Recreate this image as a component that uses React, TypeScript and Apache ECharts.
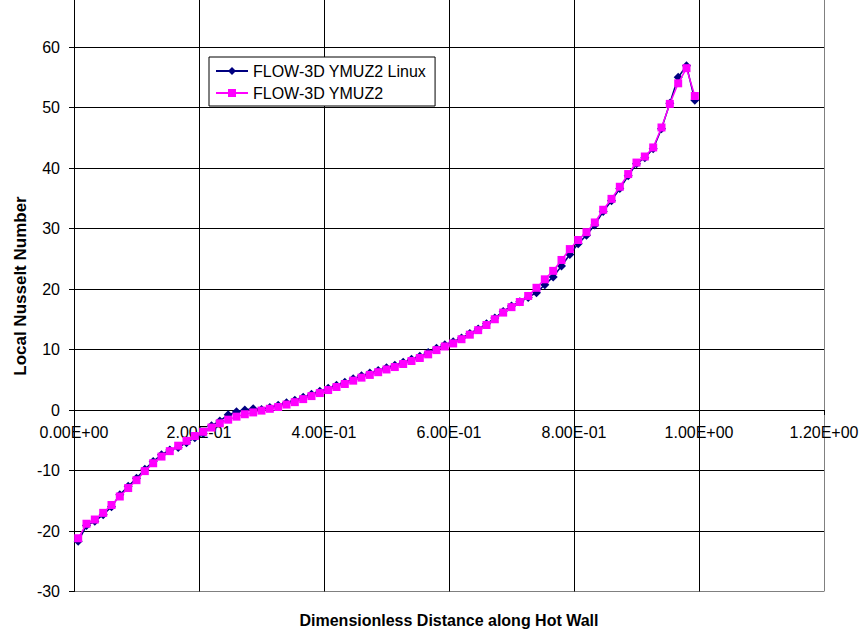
import React, { useEffect, useRef } from "react";
import * as echarts from "echarts";

// Dimensionless distance along the hot wall (cell centres)
const distance: number[] = [
  0.0067, 0.02, 0.0333, 0.0467, 0.06, 0.0733, 0.0867, 0.1, 0.1133, 0.1267,
  0.14, 0.1533, 0.1667, 0.18, 0.1933, 0.2067, 0.22, 0.2333, 0.2467, 0.26,
  0.2733, 0.2867, 0.3, 0.3133, 0.3267, 0.34, 0.3533, 0.3667, 0.38, 0.3933,
  0.4067, 0.42, 0.4333, 0.4467, 0.46, 0.4733, 0.4867, 0.5, 0.5133, 0.5267,
  0.54, 0.5533, 0.5667, 0.58, 0.5933, 0.6067, 0.62, 0.6333, 0.6467, 0.66,
  0.6733, 0.6867, 0.7, 0.7133, 0.7267, 0.74, 0.7533, 0.7667, 0.78, 0.7933,
  0.8067, 0.82, 0.8333, 0.8467, 0.86, 0.8733, 0.8867, 0.9, 0.9133, 0.9267,
  0.94, 0.9533, 0.9667, 0.98, 0.9933,
];

// Local Nusselt number, FLOW-3D YMUZ2 Linux run
const nusseltLinux: number[] = [
  -21.7, -19.1, -18.4, -17.3, -16.0, -14.0, -12.6, -11.3, -9.8, -8.5,
  -7.4, -6.6, -6.2, -5.4, -4.6, -3.9, -2.6, -1.8, -0.8, -0.3,
  0.0, 0.2, 0.1, 0.4, 0.8, 1.2, 1.6, 2.1, 2.6, 3.1,
  3.6, 4.1, 4.6, 5.15, 5.65, 6.1, 6.55, 7.0, 7.4, 7.9,
  8.4, 8.9, 9.5, 10.2, 10.8, 11.3, 11.9, 12.65, 13.4, 14.25,
  15.2, 16.3, 17.2, 17.9, 18.6, 19.4, 20.7, 22.0, 23.8, 25.7,
  27.5, 28.9, 30.6, 32.8, 34.6, 36.6, 38.7, 40.7, 41.7, 43.2,
  46.5, 50.7, 55.0, 56.9, 51.2,
];

// Local Nusselt number, FLOW-3D YMUZ2 run
const nusseltYmuz2: number[] = [
  -21.2, -18.8, -18.1, -17.0, -15.7, -14.3, -12.9, -11.6, -10.1, -8.8,
  -7.7, -6.8, -5.9, -5.1, -4.3, -3.6, -2.9, -2.2, -1.6, -1.1,
  -0.7, -0.4, -0.1, 0.2, 0.5, 0.9, 1.3, 1.8, 2.3, 2.8,
  3.3, 3.8, 4.3, 4.85, 5.35, 5.8, 6.25, 6.7, 7.1, 7.6,
  8.1, 8.6, 9.2, 9.9, 10.5, 11.0, 11.7, 12.45, 13.2, 14.05,
  15.0, 16.1, 17.0, 17.85, 18.85, 20.2, 21.6, 23.0, 24.8, 26.6,
  28.1, 29.4, 31.0, 33.1, 34.9, 36.9, 39.0, 40.9, 41.9, 43.4,
  46.7, 50.6, 54.0, 56.5, 51.9,
];

const seriesNames: string[] = ["FLOW-3D YMUZ2 Linux", "FLOW-3D YMUZ2"];
const xTitle = "Dimensionless Distance along Hot Wall";
const yTitle = "Local Nusselt Number";

const FONT = "'Liberation Sans', Arial, sans-serif";

// Plot area geometry (px) and y range; the top of the plot runs a little
// past the last labelled tick (60).
const GRID_TOP = 0;
const GRID_BOTTOM = 43.5;
const Y_MIN = -30;
const Y_MAX = 67.77;
const Y_LAST_LABEL = 60;
const CHART_H = 635;

// Distance from the bottom of the plot up to the y = 0 line, so the
// x axis (with its tick labels) crosses the y axis at zero.
const plotH = CHART_H - GRID_TOP - GRID_BOTTOM;
const zeroOffset = (plotH * (0 - Y_MIN)) / (Y_MAX - Y_MIN);

// Excel-style scientific tick label: 2.00E-01
function sci(v: number): string {
  const [m, e] = v.toExponential(2).split("e");
  const sign = e[0] === "-" ? "-" : "+";
  const digits = e.replace(/^[+-]/, "").padStart(2, "0");
  return `${m}E${sign}${digits}`;
}

export default function App() {
  const ref = useRef<HTMLDivElement>(null);

  useEffect(() => {
    if (!ref.current) return;
    const chart = echarts.init(ref.current, null, { renderer: "svg" });

    const pairs = (ys: number[]) => distance.map((x, i) => [x, ys[i]]);

    chart.setOption({
      animation: false,
      backgroundColor: "#ffffff",
      grid: { left: 74, right: 41, top: GRID_TOP, bottom: GRID_BOTTOM, containLabel: false },
      legend: {
        orient: "vertical",
        left: 209,
        top: 57,
        padding: [6, 9, 5, 6],
        itemGap: 6,
        itemWidth: 32,
        itemHeight: 10,
        backgroundColor: "#ffffff",
        borderColor: "#000000",
        borderWidth: 1,
        textStyle: { fontFamily: FONT, fontSize: 16, color: "#000" },
        data: seriesNames,
      },
      xAxis: {
        type: "value",
        min: 0,
        max: 1.2,
        interval: 0.2,
        position: "bottom",
        offset: -zeroOffset,
        axisLine: { onZero: false, lineStyle: { color: "#000", width: 1 } },
        axisTick: { show: true, inside: false, length: 5, lineStyle: { color: "#000" } },
        axisLabel: {
          margin: 14,
          fontFamily: FONT,
          fontSize: 16,
          color: "#000",
          formatter: (v: number) => sci(v),
        },
        splitLine: {
          show: true,
          lineStyle: {
            color: ["#000", "#000", "#000", "#000", "#000", "#000", "#808080"],
            width: 1,
          },
        },
      },
      yAxis: {
        type: "value",
        min: Y_MIN,
        max: Y_MAX,
        interval: 10,
        axisLine: { show: true, onZero: false, lineStyle: { color: "#000", width: 1 } },
        axisTick: { show: true, inside: false, length: 5, lineStyle: { color: "#000" } },
        axisLabel: {
          margin: 14,
          fontFamily: FONT,
          fontSize: 16,
          color: "#000",
          showMaxLabel: false,
          formatter: (v: number) => (v > Y_LAST_LABEL ? "" : String(v)),
        },
        splitLine: {
          show: true,
          showMaxLine: false,
          lineStyle: {
            color: ["#808080", "#000", "#000", "#000", "#000", "#000", "#000", "#000", "#000", "#000", "#000"],
            width: 1,
          },
        },
      },
      series: [
        {
          name: seriesNames[0],
          type: "line",
          data: pairs(nusseltLinux),
          symbol: "diamond",
          symbolSize: 9,
          itemStyle: { color: "#000080" },
          lineStyle: { color: "#000080", width: 1.5 },
          z: 2,
        },
        {
          name: seriesNames[1],
          type: "line",
          data: pairs(nusseltYmuz2),
          symbol: "rect",
          symbolSize: 8,
          itemStyle: { color: "#ff00ff" },
          lineStyle: { color: "#ff00ff", width: 1.5 },
          z: 3,
        },
      ],
      graphic: [
        {
          type: "text",
          x: 449,
          y: 620,
          style: {
            text: xTitle,
            fontFamily: FONT,
            fontSize: 16,
            fontWeight: "bold",
            fill: "#000",
            align: "center",
            verticalAlign: "middle",
          },
        },
        {
          type: "text",
          x: 20,
          y: 286,
          rotation: Math.PI / 2,
          style: {
            text: yTitle,
            fontFamily: FONT,
            fontSize: 17,
            fontWeight: "bold",
            fill: "#000",
            align: "center",
            verticalAlign: "middle",
          },
        },
      ],
    });

    return () => chart.dispose();
  }, []);

  return (
    <div
      ref={ref}
      style={{ position: "fixed", left: 0, top: 0, width: 865, height: 635, background: "#fff" }}
    />
  );
}
